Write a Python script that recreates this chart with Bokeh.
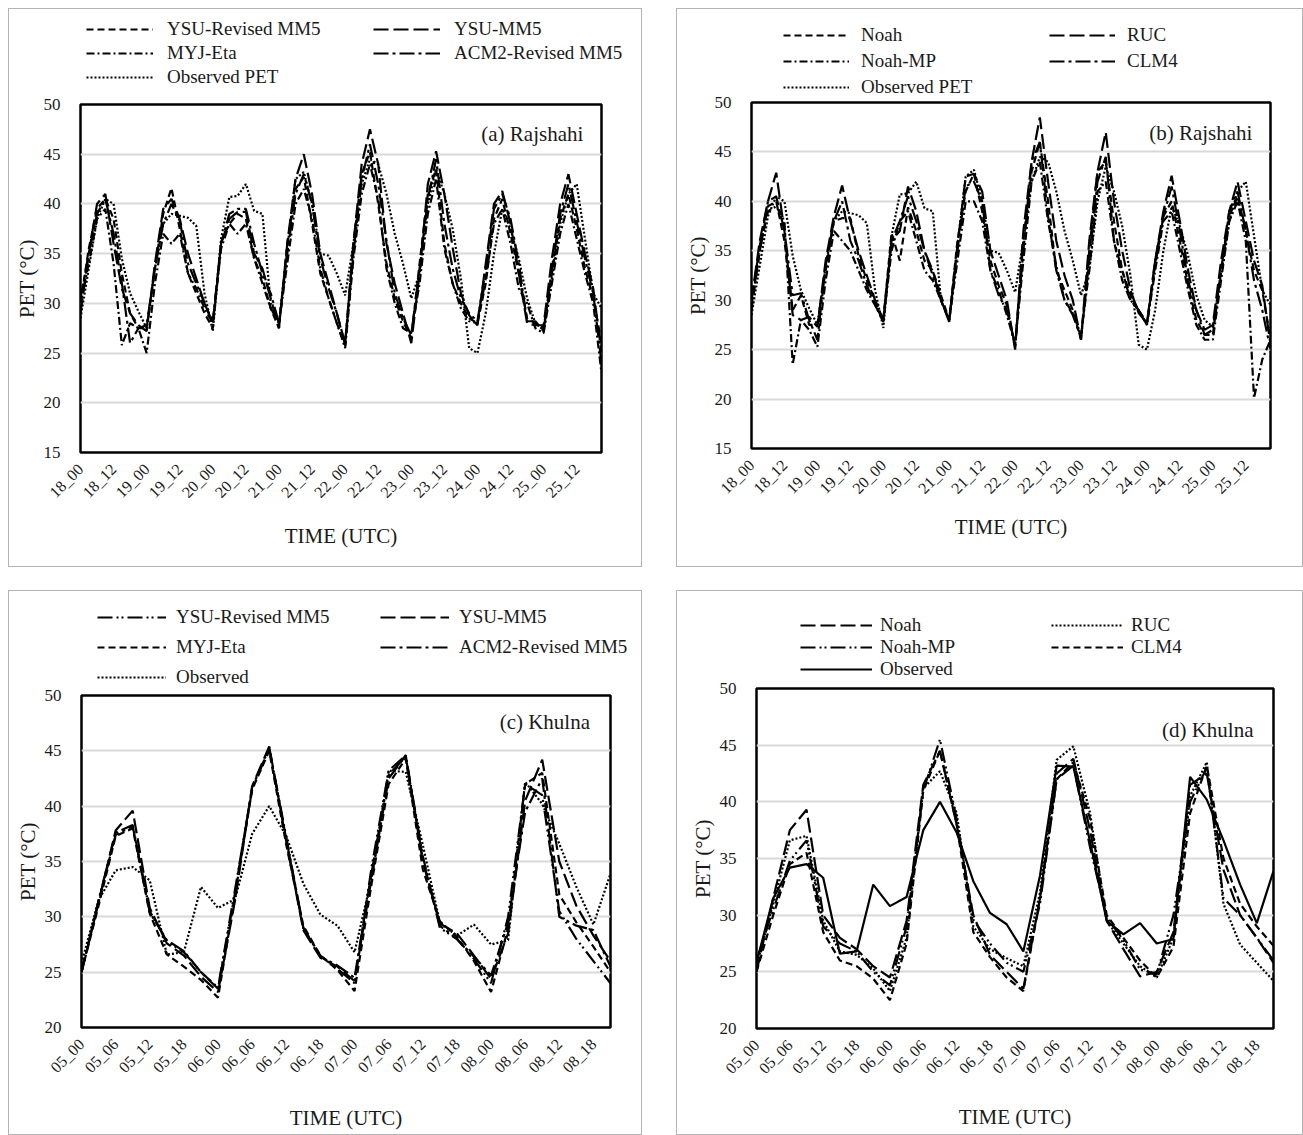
import math
from bokeh.plotting import figure
from bokeh.models import Range1d, FixedTicker, Legend, LegendItem, Label
from bokeh.layouts import row, column
from bokeh.embed import file_html
from bokeh.resources import INLINE

# ---------------- data ----------------
RAJ_TICKS = ["18_00", "18_12", "19_00", "19_12", "20_00", "20_12", "21_00", "21_12",
             "22_00", "22_12", "23_00", "23_12", "24_00", "24_12", "25_00", "25_12"]
KHU_TICKS = ["05_00", "05_06", "05_12", "05_18", "06_00", "06_06", "06_12", "06_18",
             "07_00", "07_06", "07_12", "07_18", "08_00", "08_06", "08_12", "08_18"]

OBS_RAJ = [28.5, 33.5, 38.5, 40.5, 40.0, 34.5, 31.0, 29.2,
           27.5, 33.5, 38.0, 39.0, 38.8, 38.6, 37.8, 31.0,
           27.2, 36.5, 40.7, 40.8, 42.0, 39.3, 39.0, 30.0,
           28.0, 35.5, 42.5, 43.2, 40.0, 35.0, 34.8, 33.0,
           30.8, 36.0, 42.0, 44.5, 44.0, 41.0, 37.0, 34.0,
           30.5, 33.0, 40.0, 43.5, 41.0, 37.5, 32.5, 25.5,
           25.0, 29.0, 35.0, 39.5, 37.5, 34.5, 30.5, 28.0,
           27.3, 32.5, 38.0, 41.0, 42.0, 36.5, 31.0, 29.5]

A_YSU_REV = [30, 35.5, 39.5, 40.5, 38.5, 33, 29, 27.5,
             27.5, 33.5, 39, 41.6, 37.5, 33, 31, 29,
             27.5, 36.2, 38, 39, 38.5, 34.5, 32.5, 29.5,
             27.5, 36, 41.5, 42.7, 38, 33, 30.5, 28,
             25.8, 36, 43, 45.2, 40, 34, 30.5, 28.2,
             26.5, 34, 41, 43.5, 36, 32, 30, 28.5,
             28, 32, 38.5, 40.5, 37, 33, 28.5, 28,
             27.5, 33, 38.5, 41, 37.5, 33.5, 30.5, 26]
A_YSU_MM5 = [29, 35, 40, 41, 36, 31.5, 29, 27.8,
             27.2, 34, 39.5, 40.5, 38.5, 35, 32.5, 30,
             28, 36, 38.5, 39.2, 39.2, 35, 33.5, 30.5,
             27.5, 36, 42.5, 45, 41, 35, 32, 29,
             26, 36, 44, 47.5, 44, 36, 32, 29,
             26, 33, 42, 45.3, 41, 35.6, 31, 28.8,
             27.8, 34, 40, 41.3, 38, 33, 28, 27.8,
             27.8, 34.5, 40, 43, 39, 35, 31.5, 25]
A_MYJ = [30, 34, 38.5, 39.5, 34, 25.8, 28, 27.5,
         25, 32, 37, 36, 37, 33, 31.5, 29.5,
         28, 35.5, 38, 37, 38, 34.5, 32, 29.5,
         28, 34, 40, 41.5, 38.5, 33.5, 30.5, 28,
         25.5, 34.5, 41, 44, 40.5, 33.5, 30, 27.5,
         27, 32, 39, 42.5, 35.5, 32, 29.5, 28.2,
         28, 32.5, 38, 39.5, 36, 31.5, 30, 27.5,
         27, 32, 37, 40, 36.5, 33, 30, 23]
A_ACM2 = [30.5, 35, 39, 40.5, 37, 32, 26, 27.5,
          27.8, 33.5, 38, 40, 38.3, 34, 32, 30,
          28.2, 36, 39, 39.5, 39.5, 36, 33, 31,
          28, 35, 41, 43, 40, 34.5, 31.5, 29,
          25.8, 35, 42.5, 46, 42, 36.3, 31, 28.5,
          26.8, 33.5, 40.5, 44.5, 38, 33.5, 30.5, 29,
          28.2, 33.5, 39.5, 41, 38.5, 34, 28.2, 28.2,
          27.2, 33.5, 39, 42, 38.2, 34.5, 31, 24]

B_NOAH = [29.5, 35, 39.5, 40, 36, 29, 30.5, 27.5,
          27.5, 33, 38, 38.3, 38.3, 34.5, 32, 30,
          28, 36.8, 34, 39.4, 37, 34, 33, 30.5,
          28, 36, 41, 42.8, 39, 34, 31.5, 29.5,
          25.3, 36, 43, 46, 40, 33, 31, 29,
          26, 35, 43, 44, 38, 33, 30.5, 29,
          27.7, 33.5, 38.5, 40, 36, 31.5, 28, 26.5,
          26.5, 33, 38.5, 40.5, 37, 33, 31, 26]
B_RUC = [30, 36, 40, 42.9, 37, 28.5, 28, 28.3,
         27.3, 34, 38.5, 41.6, 38, 35, 32.5, 30,
         27.8, 36, 37, 41.5, 39, 35, 33, 30,
         27.8, 35.5, 42.5, 42.8, 41, 35, 32.5, 30,
         25, 37, 44, 48.5, 42, 36, 32.5, 30,
         26, 36, 43, 47, 40, 35, 31, 28.7,
         27.7, 34, 39, 42.6, 38, 33, 29, 27,
         27.5, 34, 39, 42, 38, 34, 31.5, 25.5]
B_NOAHMP = [29, 35, 39, 39.5, 38, 23.5, 28, 27,
            25.3, 32, 37, 36, 35, 33, 31, 29.5,
            27.8, 35, 38, 39, 36, 33, 32, 30,
            28, 34, 40, 40, 38, 33, 31, 28.5,
            25.5, 34, 42, 44, 38, 33.5, 30, 28.7,
            26.5, 33, 41, 42, 36, 32, 30, 29,
            27.5, 33, 38, 39, 35, 31, 27.5, 26,
            26, 32, 38, 40, 36, 20.1, 24, 26]
B_CLM4 = [30, 35.5, 40, 40.5, 37, 30.5, 30.7, 28,
          26, 33.5, 38, 40, 36, 34, 31.5, 29.5,
          28, 36, 38, 40.5, 38, 35, 32.5, 30,
          28, 35, 41.5, 42, 40, 33, 30.5, 29,
          25.5, 35, 44, 46, 38.5, 33, 30, 28.5,
          26.2, 34, 42, 44.5, 36, 33, 30, 29,
          27.5, 34, 38.5, 41.5, 37, 32, 29, 26.5,
          27, 33, 39, 41, 37, 32, 29, 25]

OBS_KHU = [25.8, 31.5, 34.2, 34.5, 33.3, 26.6, 26.8, 32.7,
           30.8, 31.6, 37.5, 40.0, 37.3, 33.0, 30.2, 29.2,
           26.8, 33.5, 43.2, 43.1, 36.5, 29.5, 28.3, 29.3,
           27.5, 27.9, 42.2, 40.2, 36.6, 32.7, 29.3, 33.9]

C_YSU_REV = [25, 31.5, 37.6, 38.3, 30.5, 27.8, 26.8, 25.0,
             23.6, 32.5, 41.5, 45.3, 37.2, 29.0, 26.5, 25.3,
             24.0, 34.5, 43.2, 44.6, 35.5, 29.0, 28.0, 26.2,
             24.0, 30.0, 42.0, 41.0, 30.5, 28.0, 26.0, 24.0]
C_YSU_MM5 = [25, 31.3, 37.8, 39.6, 30.8, 27.6, 26.5, 24.6,
             23.2, 31.5, 41.8, 45.4, 36.8, 28.8, 26.3, 25.5,
             24.2, 33.5, 42.5, 44.6, 35.0, 29.4, 28.5, 26.5,
             24.4, 28.5, 40.5, 44.2, 35.0, 31.0, 28.3, 26.0]
C_MYJ = [25, 31.0, 37.3, 38.0, 30.3, 26.6, 25.5, 24.3,
         22.7, 32.0, 41.5, 45.0, 36.5, 29.2, 26.5, 25.2,
         23.3, 33.0, 42.0, 44.3, 34.3, 29.6, 28.2, 26.0,
         23.2, 29.0, 42.0, 43.0, 32.0, 29.5, 27.3, 25.0]
C_ACM2 = [25, 31.4, 37.4, 38.2, 30.4, 27.9, 26.9, 25.0,
          23.5, 32.2, 41.7, 45.2, 37.0, 29.0, 26.4, 25.6,
          24.5, 34.0, 42.8, 44.5, 35.2, 29.2, 28.0, 26.4,
          24.7, 29.5, 39.5, 42.5, 30.0, 29.2, 28.8, 25.5]

D_NOAH = [25, 31.5, 37.5, 39.3, 30.0, 28.0, 27.0, 25.5,
          24.5, 29.5, 41.5, 44.5, 38.0, 30.0, 26.5, 25.0,
          23.5, 31.5, 42.5, 43.8, 37.5, 29.5, 27.0, 24.6,
          25.0, 28.5, 41.5, 42.5, 34.0, 30.0, 28.0, 25.8]
D_RUC = [25.5, 31.0, 36.6, 37.0, 29.5, 26.8, 26.5, 25.3,
         23.3, 28.0, 41.2, 42.7, 39.0, 29.0, 27.0, 26.2,
         25.5, 32.0, 43.7, 44.9, 39.0, 29.5, 27.5, 25.5,
         24.5, 28.0, 40.5, 43.5, 31.0, 27.4, 25.8, 24.2]
D_NOAHMP = [26.0, 30.5, 34.8, 36.6, 29.0, 27.5, 26.8, 25.0,
            23.8, 29.0, 41.0, 45.5, 38.5, 29.6, 27.5, 25.8,
            25.0, 31.0, 42.0, 43.2, 36.0, 29.8, 27.8, 25.2,
            24.8, 30.0, 40.0, 43.0, 31.5, 30.0, 28.0, 26.0]
D_CLM4 = [25.0, 30.0, 34.5, 35.5, 28.5, 26.0, 25.5, 24.4,
          22.5, 27.5, 41.0, 44.5, 38.0, 28.5, 26.3, 24.5,
          23.3, 31.5, 42.0, 43.5, 38.5, 30.0, 28.0, 26.0,
          24.5, 27.2, 39.0, 43.2, 35.0, 31.0, 29.0, 27.3]

# ---------------- styling ----------------
FONT = "Liberation Serif"
TXT = "#1a1a1a"
DASH = "7 4"
LDASH = "15 5"
DASHDOT = "8 3 2 3"
LDASHDOT = "15 4 3 4"
LDASHDOTDOT = "15 4 2 3 2 4"
DOT = "2 2"
SOLID = "solid"
LW = 2.2
LEG_H = 100


def make_panel(width, height, bl, br, bt, bb, yr, ystep, ticks, tick_step, series,
               leg, tag, tag_xy, xlab_standoff):
    n = len(series[0][1])
    xs = list(range(n))

    # --- legend strip: its own transparent figure, overlaid on the chart's top margin ---
    lf = figure(width=width, height=LEG_H, output_backend="svg", toolbar_location=None,
                x_range=Range1d(0, n - 1), y_range=Range1d(1000, 1001),
                min_border=0, x_axis_type=None, y_axis_type=None)
    lf.frame_align = False
    lf.outline_line_color = None
    lf.grid.visible = False
    lf.background_fill_alpha = 0
    lf.border_fill_alpha = 0
    items = []
    for name, vals, dash in series:
        r = lf.line(xs, vals, line_color="black", line_width=LW, line_dash=dash)
        items.append(LegendItem(label=name, renderers=[r]))
    lx, ly, gw, lstand, lw, sp = leg
    legend = Legend(items=items, location=(lx, ly), orientation="horizontal", ncols=2,
                    glyph_width=gw, glyph_height=20, label_height=20, label_width=lw,
                    label_standoff=lstand, spacing=sp, padding=0, margin=0,
                    border_line_color=None, background_fill_alpha=0,
                    label_text_font=FONT, label_text_font_size="19px",
                    label_text_color=TXT)
    lf.add_layout(legend)

    # --- chart ---
    p = figure(width=width, height=height, output_backend="svg",
               toolbar_location=None,
               x_range=Range1d(0, n - 1), y_range=Range1d(yr[0], yr[1]),
               min_border_left=bl, min_border_right=br,
               min_border_top=bt, min_border_bottom=bb,
               background_fill_color="white")
    p.frame_align = False
    p.border_fill_alpha = 0
    p.margin = (-LEG_H, 0, 0, 0)
    p.outline_line_color = "black"
    p.outline_line_width = 2.5
    p.xgrid.visible = False
    p.ygrid.grid_line_color = "#d9d9d9"
    p.ygrid.grid_line_width = 2

    yt = list(range(yr[0], yr[1] + 1, ystep))
    p.yaxis.ticker = FixedTicker(ticks=yt)
    pos = [i * tick_step for i in range(len(ticks))]
    p.xaxis.ticker = FixedTicker(ticks=pos)
    p.xaxis.major_label_overrides = {pp: lab for pp, lab in zip(pos, ticks)}
    p.xaxis.major_label_orientation = math.pi / 4

    for ax in (p.xaxis[0], p.yaxis[0]):
        ax.axis_line_color = None
        ax.major_tick_line_color = None
        ax.minor_tick_line_color = None
        ax.major_label_text_font = FONT
        ax.major_label_text_color = TXT
        ax.axis_label_text_font = FONT
        ax.axis_label_text_font_style = "normal"
        ax.axis_label_text_color = TXT
        ax.axis_label_text_font_size = "21px"
    p.yaxis.major_label_text_font_size = "17px"
    p.xaxis.major_label_text_font_size = "16px"
    p.yaxis.major_label_standoff = 14
    p.xaxis.major_label_standoff = 8
    p.yaxis.axis_label = "PET (°C)"
    p.xaxis.axis_label = "TIME (UTC)"
    p.yaxis.axis_label_standoff = 2
    p.xaxis.axis_label_standoff = xlab_standoff

    for name, vals, dash in series:
        p.line(xs, vals, line_color="black", line_width=LW, line_dash=dash)

    p.add_layout(Label(x=tag_xy[0], y=tag_xy[1], text=tag, text_align="right",
                       text_baseline="middle", text_font=FONT, text_font_size="21px",
                       text_color=TXT))

    box = column(lf, p, spacing=0)
    box.styles = {"border": "1px solid #b4b4b4", "background-color": "white"}
    return box


pa = make_panel(632, 557, 71, 40, 95, 114, (15, 50), 5, RAJ_TICKS, 4,
                [("YSU-Revised MM5", A_YSU_REV, DASH),
                 ("YSU-MM5", A_YSU_MM5, LDASH),
                 ("MYJ-Eta", A_MYJ, DASHDOT),
                 ("ACM2-Revised MM5", A_ACM2, LDASHDOT),
                 ("Observed PET", OBS_RAJ, DOT)],
                (77, 21, 67, 14, 204, 2), "(a) Rajshahi", (60.8, 47.0), 14)

pb = make_panel(625, 557, 74, 32, 93, 118, (15, 50), 5, RAJ_TICKS, 4,
                [("Noah", B_NOAH, DASH),
                 ("RUC", B_RUC, LDASH),
                 ("Noah-MP", B_NOAHMP, DASHDOT),
                 ("CLM4", B_CLM4, LDASHDOT),
                 ("Observed PET", OBS_RAJ, DOT)],
                (106, 11, 66, 12, 184, 4), "(b) Rajshahi", (60.8, 46.9), 9)

pc = make_panel(632, 543, 72, 31, 104, 107, (20, 50), 5, KHU_TICKS, 2,
                [("YSU-Revised MM5", C_YSU_REV, LDASHDOTDOT),
                 ("YSU-MM5", C_YSU_MM5, LDASH),
                 ("MYJ-Eta", C_MYJ, DASH),
                 ("ACM2-Revised MM5", C_ACM2, LDASHDOT),
                 ("Observed", OBS_KHU, DOT)],
                (88, 3, 69, 10, 196, 8), "(c) Khulna", (29.8, 47.6), 21)

pd = make_panel(625, 543, 79, 29, 97, 106, (20, 50), 5, KHU_TICKS, 2,
                [("Noah", D_NOAH, LDASH),
                 ("RUC", D_RUC, DOT),
                 ("Noah-MP", D_NOAHMP, LDASHDOTDOT),
                 ("CLM4", D_CLM4, DASH),
                 ("Observed", OBS_KHU, SOLID)],
                (123, 11, 72, 8, 171, 0), "(d) Khulna", (29.8, 46.3), 19)

layout = column(row(pa, pb, spacing=34), row(pc, pd, spacing=34), spacing=23,
                margin=(8, 0, 0, 8))

open("out.html", "w").write(file_html(layout, INLINE))
